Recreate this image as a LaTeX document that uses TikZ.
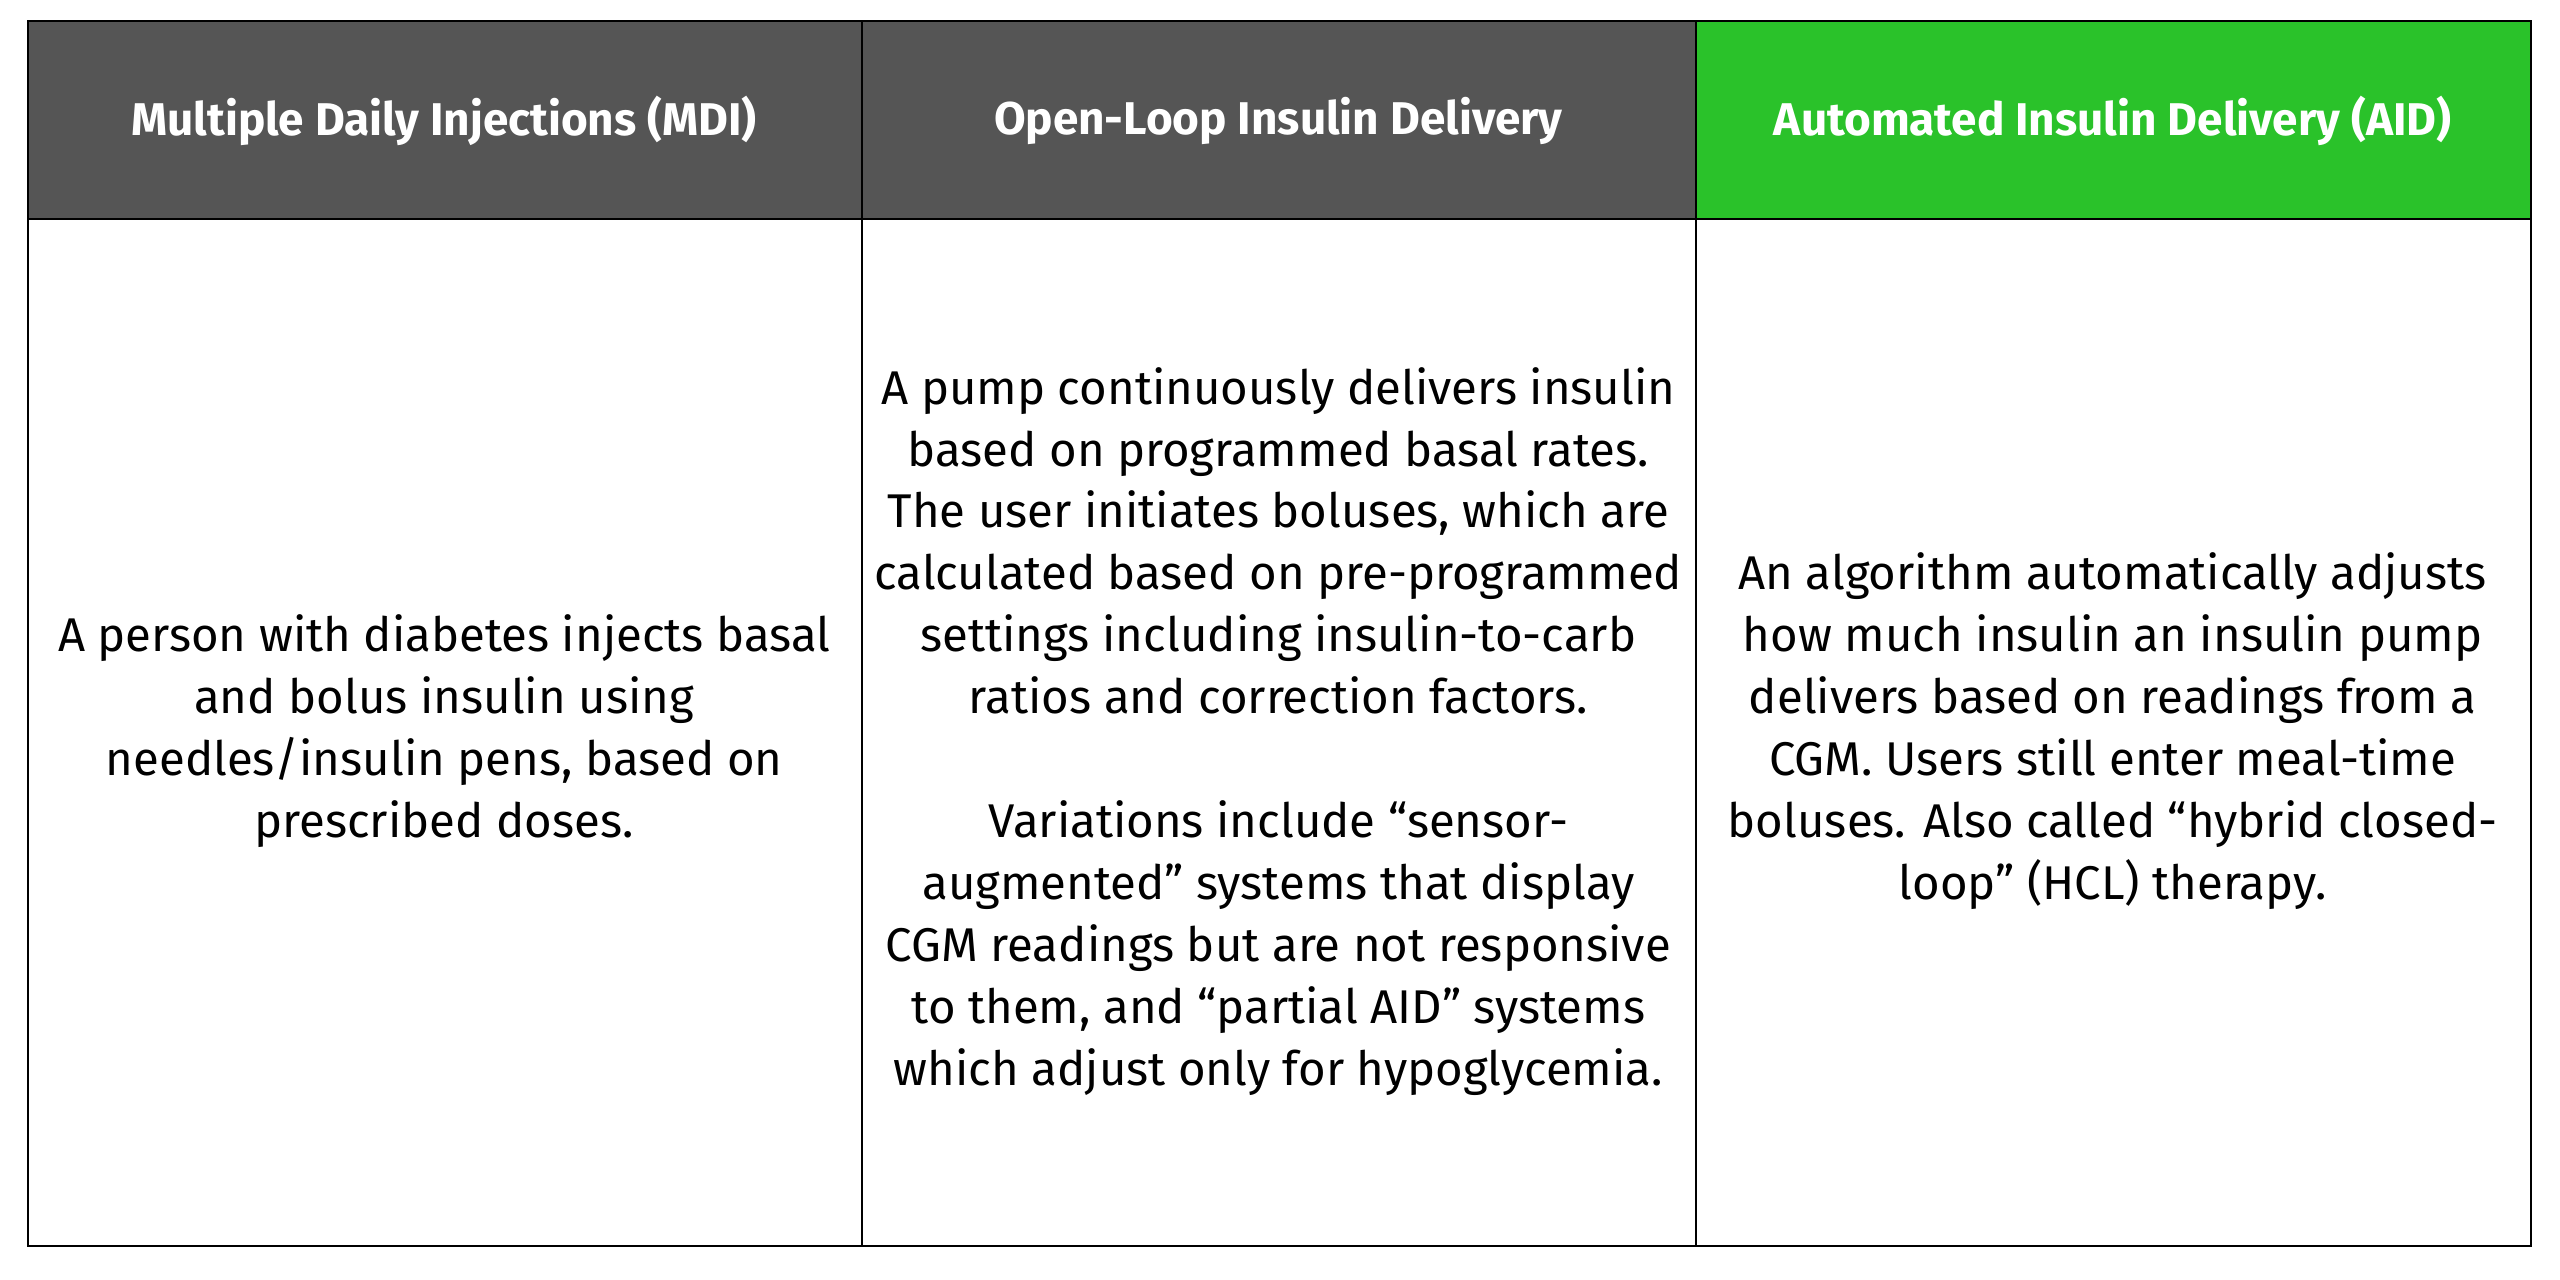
\documentclass[tikz,border=0pt]{standalone}
\usepackage{fontspec}
\setmainfont{Fira Sans}
\definecolor{headgray}{HTML}{555555}
\definecolor{headgreen}{HTML}{2AC22A}
\tikzset{
	cell/.style={draw=black, line width=0.7pt},
	headtext/.style={text=white, font=\fontsize{16}{20}\selectfont\bfseries, align=center},
	bodytext/.style={font=\fontsize{16.5}{21.6}\selectfont, align=center}
}
\begin{document}
\begin{tikzpicture}[x=0.02cm, y=-0.02cm]
	\def \top{ 13 };
	\def \mid{ 134 };
	\def \bot{ 763 };
	\useasboundingbox (0,0) rectangle (1568,784);
	\fill[white] (0,0) rectangle (1568,784);
	% header cells
	\draw[cell, fill=headgray] (17,\top) rectangle (528,\mid);
	\draw[cell, fill=headgray] (528,\top) rectangle (1039,\mid);
	\draw[cell, fill=headgreen] (1039,\top) rectangle (1550,\mid);
	% body cells
	\draw[cell] (17,\mid) rectangle (528,\bot);
	\draw[cell] (528,\mid) rectangle (1039,\bot);
	\draw[cell] (1039,\mid) rectangle (1550,\bot);
	\node[headtext] (mdi) at (272,74) {Multiple Daily Injections (MDI)};
	\node[headtext] (open) at (783,74) {Open-Loop Insulin Delivery};
	\node[headtext] (aid) at (1294,74) {Automated Insulin Delivery (AID)};
	\node[bodytext] (mditext) at (272,448) {A person with diabetes injects basal\\and bolus insulin using\\needles/insulin pens, based on\\prescribed doses.};
	\node[bodytext] (opentext) at (783,448) {A pump continuously delivers insulin\\based on programmed basal rates.\\The user initiates boluses, which are\\calculated based on pre-programmed\\settings including insulin-to-carb\\ratios and correction factors.\\[21.6pt]Variations include “sensor-\\augmented” systems that display\\CGM readings but are not responsive\\to them, and “partial AID” systems\\which adjust only for hypoglycemia.};
	\node[bodytext] (aidtext) at (1294,448) {An algorithm automatically adjusts\\how much insulin an insulin pump\\delivers based on readings from a\\CGM. Users still enter meal-time\\boluses. Also called “hybrid closed-\\loop” (HCL) therapy.};
\end{tikzpicture}
\end{document}
